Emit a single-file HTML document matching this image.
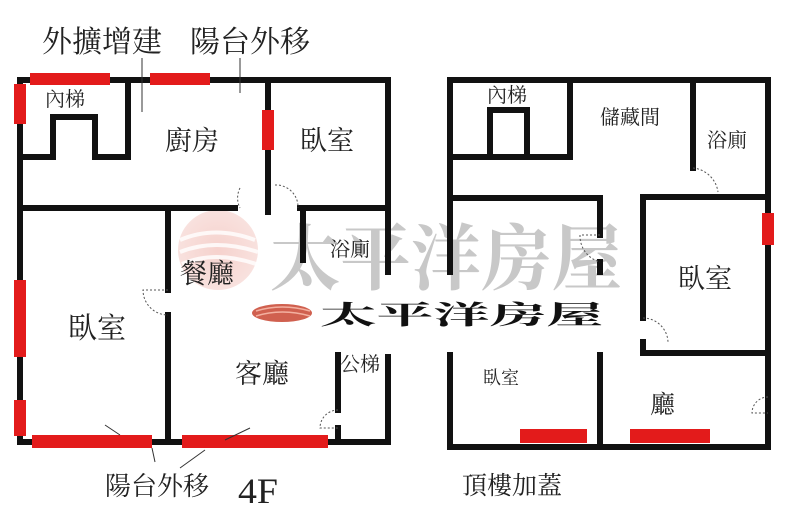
<!DOCTYPE html>
<html><head><meta charset="utf-8"><style>
html,body{margin:0;padding:0;background:#fff;}
svg{display:block;}
text{font-family:"Liberation Serif","Noto Serif CJK SC","Noto Sans CJK TC",serif;fill:#222;}
</style></head><body>
<svg width="800" height="511" viewBox="0 0 800 511" xmlns="http://www.w3.org/2000/svg">
<defs>
<radialGradient id="lg" cx="50%" cy="50%" r="50%">
<stop offset="0" stop-color="#f3c6c0"/><stop offset="1" stop-color="#f7dad6"/>
</radialGradient>
</defs>
<!-- watermark -->
<circle cx="218" cy="250" r="40" fill="url(#lg)" opacity="0.8"/>
<path d="M180 240 Q215 225 255 240 M180 252 Q215 238 258 252 M182 264 Q215 250 256 264" stroke="#fff" stroke-width="4" fill="none" opacity="0.8"/>
<text x="270" y="284" font-size="72" font-weight="bold" fill="#c8c8c8" style="fill:#c8c8c8" textLength="352" lengthAdjust="spacingAndGlyphs">太平洋房屋</text>
<ellipse cx="282" cy="313" rx="30" ry="9" fill="#d0604f"/>
<path d="M256 311 Q282 303 310 311 M256 316 Q282 308 310 316" stroke="#f3b0a0" stroke-width="1.5" fill="none"/>
<text x="320" y="324" font-size="26" font-weight="bold" style="fill:#111" textLength="283" lengthAdjust="spacingAndGlyphs">太平洋房屋</text>

<g stroke="#111" stroke-width="6" fill="none" stroke-linecap="square">
<!-- LEFT PLAN -->
<path d="M20 80 H388 V272"/>
<path d="M20 80 V442 H388 V357"/>
<path d="M20 157 H53 V117 H95 V157 H128 V80"/>
<path d="M268 80 V212"/>
<path d="M20 208 H235"/>
<path d="M300 208 H388"/>
<path d="M303 208 V260"/>
<path d="M168 208 V290"/>
<path d="M168 315 V442"/>
<path d="M338 355 V410"/>
<path d="M338 428 V442"/>
<!-- RIGHT PLAN -->
<path d="M450 272 V80 H768 V447 H450 V355"/>
<path d="M450 157 H570 V80"/>
<path d="M490 157 V110 H527 V157"/>
<path d="M693 80 V168"/>
<path d="M643 197 H768"/>
<path d="M643 197 V318"/>
<path d="M643 342 V353 H768"/>
<path d="M450 198 H600 V235"/>
<path d="M600 262 V272"/>
<path d="M600 355 V447"/>
</g>
<!-- doors -->
<g stroke="#555" stroke-width="1" fill="none" stroke-dasharray="2,2">
<path d="M240 188 A22 22 0 0 0 240 208"/>
<path d="M275 185 A22 22 0 0 1 298 208"/>
<path d="M168 290 H143 A25 25 0 0 0 168 315"/>
<path d="M338 410 A18 18 0 0 0 320 428 H338"/>
<path d="M693 168 A28 28 0 0 1 718 192"/>
<path d="M643 318 A25 25 0 0 1 668 342"/>
<path d="M768 397 A16 16 0 0 0 752 413 H768"/>
<path d="M600 235 H580 A27 27 0 0 0 600 262"/>
</g>
<!-- red marks -->
<g fill="#e31b1b">
<rect x="14" y="84" width="12" height="40"/>
<rect x="14" y="280" width="12" height="77"/>
<rect x="14" y="400" width="12" height="36"/>
<rect x="30" y="73" width="80" height="12"/>
<rect x="150" y="73" width="60" height="12"/>
<rect x="262" y="110" width="12" height="40"/>
<rect x="32" y="435" width="120" height="13"/>
<rect x="182" y="435" width="146" height="13"/>
<rect x="762" y="213" width="12" height="32"/>
<rect x="520" y="429" width="67" height="14"/>
<rect x="630" y="429" width="80" height="14"/>
</g>
<!-- leader lines -->
<g stroke="#333" stroke-width="1" fill="none">
<path d="M142 58 V112"/>
<path d="M240 58 V93"/>
<path d="M105 425 L120 435 M152 448 L155 462 M180 468 L205 450 M225 440 L250 428"/>
</g>
<!-- labels -->
<text x="42" y="52" font-size="30">外擴增建</text>
<text x="190" y="52" font-size="30">陽台外移</text>
<text x="105" y="495" font-size="26">陽台外移</text>
<text x="238" y="503" font-size="36" textLength="40" lengthAdjust="spacingAndGlyphs">4F</text>
<text x="462" y="494" font-size="25">頂樓加蓋</text>

<text x="45" y="106" font-size="20">內梯</text>
<text x="165" y="150" font-size="27">廚房</text>
<text x="300" y="150" font-size="27">臥室</text>
<text x="180" y="283" font-size="27">餐廳</text>
<text x="330" y="256" font-size="20">浴廁</text>
<text x="68" y="338" font-size="29">臥室</text>
<text x="235" y="383" font-size="27">客廳</text>
<text x="340" y="371" font-size="20">公梯</text>

<text x="487" y="102" font-size="20">內梯</text>
<text x="600" y="124" font-size="20">儲藏間</text>
<text x="707" y="147" font-size="20">浴廁</text>
<text x="678" y="288" font-size="27">臥室</text>
<text x="483" y="384" font-size="18">臥室</text>
<text x="650" y="413" font-size="25">廳</text>
</svg>
</body></html>
